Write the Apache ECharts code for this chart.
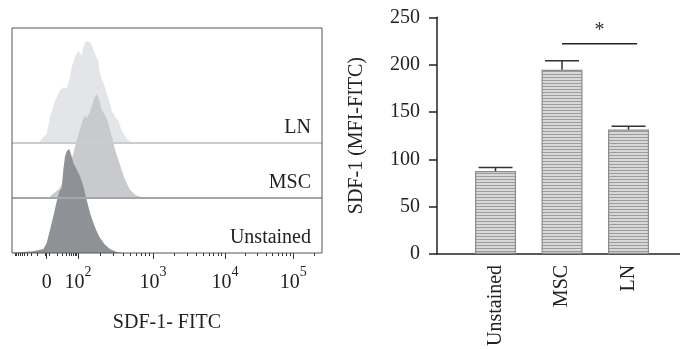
<!DOCTYPE html>
<html><head><meta charset="utf-8">
<script src="https://cdn.jsdelivr.net/npm/echarts@6/dist/echarts.min.js"></script>
<style>html,body{margin:0;padding:0;background:#fff}#c{width:680px;height:349px}</style>
</head><body><div id="c"></div>
<script>
// ---------- Left panel: flow histograms (x in display decades: 10^2 at 2), height in % of mode ----------
const lnX  = [1.449,1.565,1.611,1.681,1.750,1.796,1.843,1.889,1.912,1.958,2.005,2.028,2.051,2.074,2.111,2.130,2.167,2.204,2.236,2.282,2.296,2.329,2.375,2.421,2.468,2.514,2.537,2.560,2.606,2.676,2.745];
const lnH  = [0,8.9,24.9,40.9,50.5,53.7,52.1,63.3,72.8,82.4,88.8,87.2,84.0,92.0,98.4,100,96.8,92.0,85.6,79.2,69.6,61.7,53.7,42.5,31.3,24.9,26.5,21.7,12.1,4.2,0];
const mscX = [1.611,1.727,1.819,1.912,1.958,2.005,2.051,2.097,2.120,2.157,2.190,2.222,2.259,2.296,2.329,2.375,2.407,2.444,2.481,2.514,2.560,2.606,2.653,2.722,2.792,2.884,2.954];
const mscH = [1.6,8.0,17.6,36.7,49.5,60.7,71.9,79.9,76.7,81.5,87.9,95.8,100,94.2,84.7,79.9,75.1,65.5,55.9,46.3,36.7,27.2,17.6,8.0,3.2,0.6,0];
const unsX = [1.083,1.102,1.380,1.519,1.565,1.611,1.657,1.704,1.741,1.773,1.796,1.819,1.843,1.880,1.912,1.935,1.972,2.028,2.074,2.120,2.167,2.213,2.259,2.306,2.375,2.444,2.537,2.630];
const unsH = [0.3,0.6,1.6,3.8,9.6,22.4,35.3,49.7,59.3,62.5,80.1,92.9,97.8,100,92.9,86.5,81.7,73.7,64.1,51.3,38.5,28.8,20.8,14.4,8.0,3.8,1.0,0];
const laneNames = ['Unstained','MSC','LN'];
const laneOffsets = [0,1,2];
const xTickLabels = ['0','10^2','10^3','10^4','10^5'];
const xTickPos    = [1.565,2,3.04,4.04,4.99];
// ---------- Right panel: bars ----------
const barCategories = ['Unstained','MSC','LN'];
const barMeans  = [87.5,194.5,131.4];
const barErrors = [3.7,9.5,3.6];
const sigValue = 222;
const sigText = '*';

const FONT = 'Liberation Serif';
const FS = 20;
const PEAK = 1.89;
const BAR0 = 0.88;
const barPos = barCategories.map((c,i)=>i+BAR0);

// minor ticks for the left axis
const minorTicks = [];
for (let k=2;k<=10;k++) minorTicks.push(1.565 - 0.44*Math.log10(k));
for (let k=2;k<=9;k++) minorTicks.push(2 - 0.417*(1-Math.log10(k)));
minorTicks.push(1.54,1.60);
const decs=[2,3.04,4.04,4.99,5.95];
for (let d=0; d<decs.length-1; d++) for (let k=2;k<=9;k++){const v=decs[d]+(decs[d+1]-decs[d])*Math.log10(k); if(v<5.38) minorTicks.push(v);}

function curve(xs,hs,off){return xs.map((x,i)=>[x, off + hs[i]/100*PEAK]);}
const fills = ['#8e9195','#c9cacd','#e4e5e8'];
const curves = [[unsX,unsH],[mscX,mscH],[lnX,lnH]];

// pattern for bars
const pc = document.createElement('canvas'); pc.width=4; pc.height=3;
const pctx = pc.getContext('2d'); pctx.fillStyle='#d8d8d8'; pctx.fillRect(0,0,4,3); pctx.fillStyle='#9c9c9c'; pctx.fillRect(0,2,4,1);

const chart = echarts.init(document.getElementById('c'));
const histSeries = [2,1,0].map(i=>({
  type:'line', xAxisIndex:0, yAxisIndex:0, symbol:'none', silent:true,
  data: curve(curves[i][0], curves[i][1], laneOffsets[i]),
  lineStyle:{width:0}, areaStyle:{color:fills[i], opacity:1, origin:laneOffsets[i]},
  z: 2 + (2-i)
}));
histSeries.push({
  type:'line', xAxisIndex:0, yAxisIndex:0, data:[], silent:true, z:10,
  markLine:{symbol:'none', silent:true, label:{show:false},
    data:[{yAxis:laneOffsets[1], lineStyle:{color:'#a3a6aa', width:2, type:'solid'}},
          {yAxis:laneOffsets[2], lineStyle:{color:'#c9ccd0', width:2, type:'solid'}}]}
});

chart.setOption({
  animation:false,
  textStyle:{fontFamily:FONT},
  grid:[
    {left:12, top:28, width:310, height:225, show:true, borderColor:'#555', borderWidth:1, backgroundColor:'transparent', z:20},
    {left:437, top:17.3, width:243, height:236.7}
  ],
  xAxis:[
    {gridIndex:0, type:'value', min:1.083, max:5.389, position:'bottom',
     axisLine:{show:false}, splitLine:{show:false},
     axisTick:{show:true, customValues:xTickPos, length:6, lineStyle:{color:'#333', width:1}},
     axisLabel:{show:true, customValues:xTickPos, margin:12, color:'#222',
       formatter:v=>{let i=xTickPos.findIndex(p=>Math.abs(p-v)<1e-6); const t=xTickLabels[i]||''; if(t.indexOf('^')<0) return '{b|'+t+'}'; const [a,b]=t.split('^'); return '{b|'+a+'}{s|'+b+'}';},
       rich:{b:{fontSize:FS, fontFamily:FONT, color:'#222', lineHeight:28, verticalAlign:'bottom'},
             s:{fontSize:14, fontFamily:FONT, color:'#222', lineHeight:14, verticalAlign:'top'}}},
     name:'SDF-1- FITC', nameLocation:'middle', nameGap:60, nameTextStyle:{fontSize:FS, fontFamily:FONT, color:'#222'}},
    {gridIndex:0, type:'value', min:1.083, max:5.389, position:'bottom', offset:0,
     axisLine:{show:false}, splitLine:{show:false}, axisLabel:{show:false},
     axisTick:{show:true, customValues:minorTicks, length:3, lineStyle:{color:'#333', width:1}}},
    {gridIndex:1, type:'value', min:0, max:3.654, position:'bottom',
     axisLine:{show:true, lineStyle:{color:'#222', width:1.5}}, axisTick:{show:false}, splitLine:{show:false},
     axisLabel:{show:true, customValues:barPos, rotate:90, margin:11, fontSize:FS, color:'#222', fontFamily:FONT,
       formatter:v=>{let i=barPos.findIndex(p=>Math.abs(p-v)<1e-6); return barCategories[i]||'';}}}
  ],
  yAxis:[
    {gridIndex:0, type:'value', min:0, max:4.09, show:false},
    {gridIndex:1, type:'value', min:0, max:250, interval:50,
     axisLine:{show:true, lineStyle:{color:'#222', width:1.5}},
     axisTick:{show:true, length:8, lineStyle:{color:'#222', width:1.5}},
     splitLine:{show:false},
     axisLabel:{fontSize:FS, color:'#222', fontFamily:FONT, margin:17},
     name:'SDF-1 (MFI-FITC)', nameLocation:'middle', nameGap:70, nameRotate:90,
     nameTextStyle:{fontSize:FS, color:'#222', fontFamily:FONT}}
  ],
  graphic: laneNames.map((n,i)=>({type:'text', right:680-311, top:[228,173,118][i],
     style:{text:n, font:FS+'px "Liberation Serif"', fill:'#222', textAlign:'right'}})),
  series: histSeries.concat([
    {type:'bar', xAxisIndex:2, yAxisIndex:1, barWidth:41,
     data: barPos.map((p,i)=>[p, barMeans[i]]),
     itemStyle:{color:{image:pc, repeat:'repeat'}, borderColor:'#8c8c8c', borderWidth:1.2}},
    {type:'custom', xAxisIndex:2, yAxisIndex:1, z:5,
     data: barPos.map((p,i)=>[p, barMeans[i], barMeans[i]+barErrors[i]]),
     renderItem:(params, api)=>{
       const b=api.coord([api.value(0), api.value(1)]), t=api.coord([api.value(0), api.value(2)]);
       const w=17;
       return {type:'group', children:[
         {type:'line', shape:{x1:b[0],y1:b[1],x2:t[0],y2:t[1]}, style:{stroke:'#333', lineWidth:1.5}},
         {type:'line', shape:{x1:t[0]-w,y1:t[1],x2:t[0]+w,y2:t[1]}, style:{stroke:'#333', lineWidth:1.5}}
       ]};
     }},
    {type:'custom', xAxisIndex:2, yAxisIndex:1, z:5,
     data:[[barPos[1], barPos[2]+0.13, sigValue]],
     renderItem:(params, api)=>{
       const a=api.coord([api.value(0), api.value(2)]), b=api.coord([api.value(1), api.value(2)]);
       return {type:'group', children:[
         {type:'line', shape:{x1:a[0],y1:a[1],x2:b[0],y2:b[1]}, style:{stroke:'#222', lineWidth:1.5}},
         {type:'text', x:(a[0]+b[0])/2, y:a[1]-3, style:{text:sigText, font:'20px "Liberation Serif"', fill:'#333', textAlign:'center', textVerticalAlign:'bottom'}}
       ]};
     }}
  ])
});
</script></body></html>
